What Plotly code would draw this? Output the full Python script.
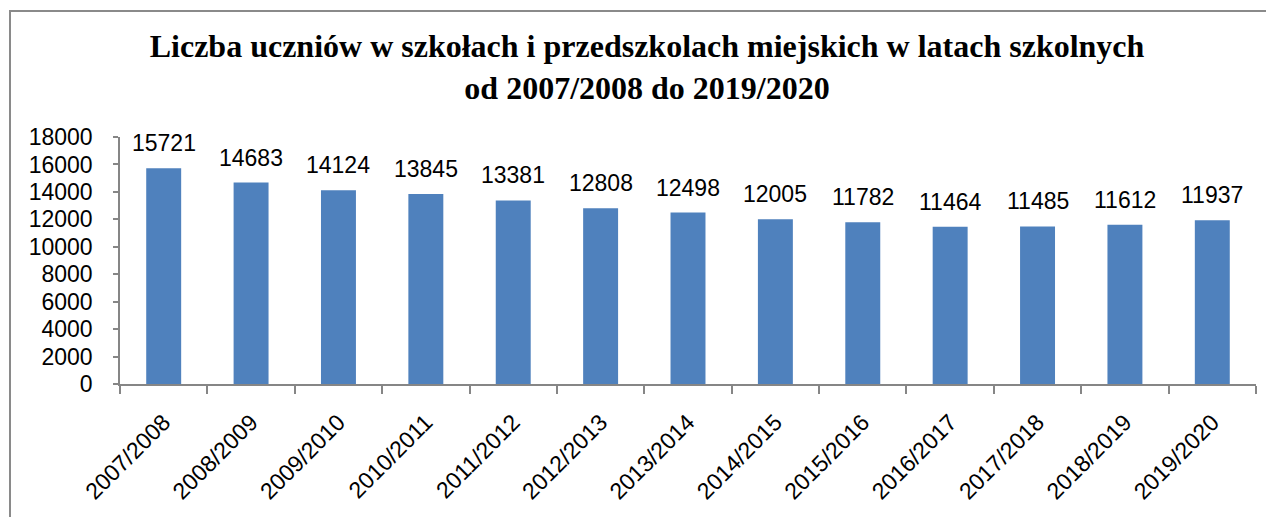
import plotly.graph_objects as go

years = ["2007/2008", "2008/2009", "2009/2010", "2010/2011", "2011/2012",
         "2012/2013", "2013/2014", "2014/2015", "2015/2016", "2016/2017",
         "2017/2018", "2018/2019", "2019/2020"]
students = [15721, 14683, 14124, 13845, 13381, 12808, 12498, 12005,
            11782, 11464, 11485, 11612, 11937]
y_ticks = list(range(0, 18001, 2000))

title_text = ("Liczba uczniów w szkołach i przedszkolach miejskich w latach szkolnych"
              "<br>od 2007/2008 do 2019/2020")

LABEL_FONT = dict(family="Liberation Sans, Arial, sans-serif", size=23, color="black")
AXIS_COLOR = "#868686"

# page body adds an 8px offset; compensate in margins
L, R, T, B = 112, 26, 129, 141
PW = 1274 - L - R
PH = 517 - T - B

fig = go.Figure()
fig.add_trace(go.Bar(
    x=years, y=students,
    marker=dict(color="#4F81BD", line=dict(width=0)),
    hoverinfo="x+y",
))

for xv, yv in zip(years, students):
    fig.add_annotation(x=xv, y=yv, text=str(yv), showarrow=False,
                       yanchor="bottom", yshift=10, font=LABEL_FONT)

fig.update_layout(
    width=1274, height=517,
    margin=dict(l=L, r=R, t=T, b=B, autoexpand=False),
    paper_bgcolor="white", plot_bgcolor="white",
    bargap=0.6,
    showlegend=False,
    title=dict(text=title_text, x=0.5016, xanchor="center", xref="container",
               y=0.905, yanchor="top", yref="container",
               font=dict(family="Liberation Serif, Times New Roman, serif",
                         size=32, color="black", weight="bold")),
    xaxis=dict(type="category", showline=True, linecolor=AXIS_COLOR, linewidth=1.5,
               ticks="outside", tickson="boundaries", ticklen=8, tickcolor=AXIS_COLOR,
               tickwidth=1.5, tickangle=-45, tickfont=LABEL_FONT, showgrid=False,
               ticklabelstandoff=14, automargin=False),
    yaxis=dict(range=[0, 18000], tickvals=y_ticks, ticktext=[str(v) for v in y_ticks],
               showline=True, linecolor=AXIS_COLOR,
               linewidth=1.5, ticks="outside", ticklen=5, tickcolor=AXIS_COLOR,
               tickwidth=1.5, tickfont=LABEL_FONT, showgrid=False, zeroline=False,
               ticklabelstandoff=16, automargin=False),
)

# outer chart frame (extends past the right and bottom edges)
fig.add_shape(type="rect", xref="paper", yref="paper",
              x0=(2 - L) / PW, x1=1.2, y0=-1.0, y1=1 + (T - 3) / PH,
              line=dict(color="#8a8a8a", width=2), fillcolor="rgba(0,0,0,0)", layer="below")

fig.write_html("out.html")
